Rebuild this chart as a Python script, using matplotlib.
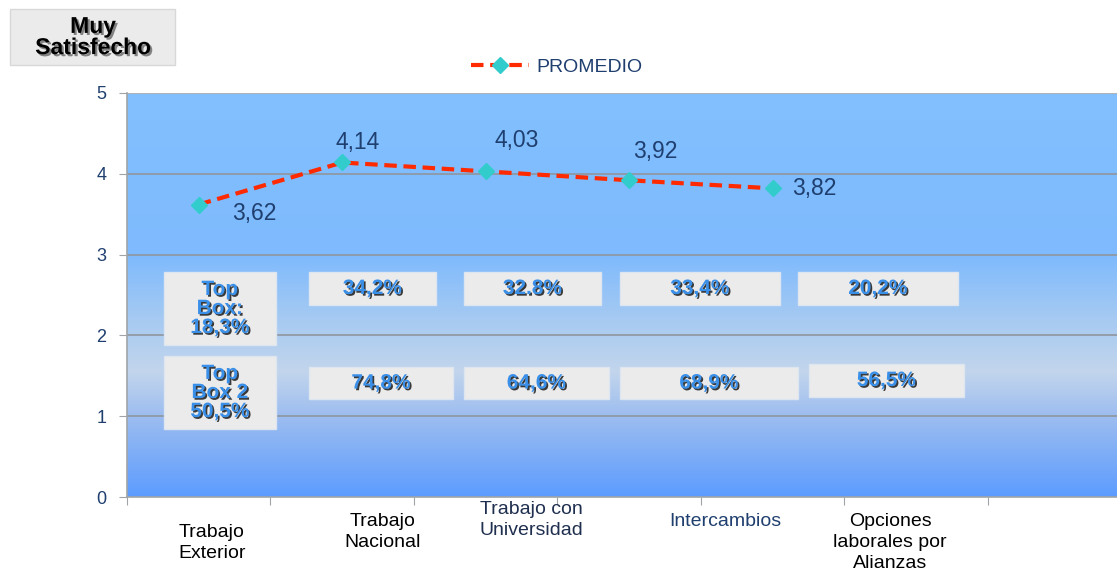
import numpy as np
import matplotlib
matplotlib.use("Agg")
import matplotlib.pyplot as plt
import matplotlib.patheffects as pe
from matplotlib.colors import LinearSegmentedColormap
from matplotlib.patches import Rectangle

plt.rcParams['font.family'] = ['Liberation Sans', 'DejaVu Sans']

# datos
categorias = ["Trabajo\nExterior", "Trabajo\nNacional", "Trabajo con\nUniversidad",
              "Intercambios", "Opciones\nlaborales por\nAlianzas"]
promedio = [3.62, 4.14, 4.03, 3.92, 3.82]
etiquetas_prom = ["3,62", "4,14", "4,03", "3,92", "3,82"]
top_box = ["Top\nBox:\n18,3%", "34,2%", "32.8%", "33,4%", "20,2%"]
top_box2 = ["Top\nBox 2\n50,5%", "74,8%", "64,6%", "68,9%", "56,5%"]

fig = plt.figure(figsize=(11.17, 5.71), dpi=100)
ax = fig.add_axes([127 / 1117, 1 - 497 / 571, 1 - 127 / 1117, (497 - 93) / 571])
ax.set_xlim(0, 6.9)
ax.set_ylim(0, 5)

# fondo degradado
stops = [(0.0, "#5c9cff"), (0.2, "#9dbdf0"), (0.31, "#c2d5ec"), (0.44, "#a6caf2"),
         (0.6, "#7ebafd"), (1.0, "#82c0ff")]
cmap = LinearSegmentedColormap.from_list("fondo", stops)
grad = np.linspace(0, 1, 256).reshape(-1, 1)
ax.imshow(grad, cmap=cmap, origin="lower", aspect="auto", extent=[0, 6.9, 0, 5], zorder=0)

for yv in [1, 2, 3, 4]:
    ax.axhline(yv, color="#8f969e", lw=1.2, zorder=1)
ax.axhline(5, color="#b0b4b8", lw=1.5, zorder=1)

x = np.arange(len(promedio)) + 0.5
ax.plot(x, promedio, color="#ff2a00", lw=3, ls=(0, (3, 1.6)), marker="D",
        markersize=8, markerfacecolor="#33cccc", markeredgecolor="#33cccc",
        label="PROMEDIO", zorder=4)

offs = [(56, -9, "center"), (15, 20, "center"), (31, 31, "center"),
        (26, 29, "center"), (19, 0, "left")]
for xi, yi, t, (dx, dy, ha) in zip(x, promedio, etiquetas_prom, offs):
    ax.annotate(t, (xi, yi), xytext=(dx, dy), textcoords="offset pixels",
                ha=ha, va="center", fontsize=16.5, color="#1f3f6f", zorder=5)

# cajas Top Box
sombra = [pe.withSimplePatchShadow(offset=(1.2, -1.2), shadow_rgbFace="#1a1a1a", alpha=0.85)]

def caja(x0, x1, y0, y1, texto, fs=15):
    ax.add_patch(Rectangle((x0, y0), x1 - x0, y1 - y0, facecolor="#ebebeb",
                           edgecolor="#dde6f0", lw=1, zorder=3))
    ax.text((x0 + x1) / 2, (y0 + y1) / 2, texto, ha="center", va="center",
            fontsize=fs, fontweight="bold", color="#3a8fe8", linespacing=1.0,
            path_effects=sombra, zorder=4)

fila1_x = [(0.258, 1.038), (1.268, 2.153), (2.348, 3.303), (3.436, 4.55), (4.676, 5.791)]
fila2_x = [(0.258, 1.038), (1.268, 2.272), (2.348, 3.359), (3.436, 4.676), (4.753, 5.833)]
for i, (xx, t) in enumerate(zip(fila1_x, top_box)):
    if i == 0:
        caja(xx[0], xx[1], 1.88, 2.785, t)
    else:
        caja(xx[0], xx[1], 2.376, 2.785, t)
for i, (xx, t) in enumerate(zip(fila2_x, top_box2)):
    if i == 0:
        caja(xx[0], xx[1], 0.84, 1.745, t)
    elif i == 4:
        caja(xx[0], xx[1], 1.238, 1.646, t)
    else:
        caja(xx[0], xx[1], 1.21, 1.61, t)

# ejes
for s in ["top", "right"]:
    ax.spines[s].set_visible(False)
ax.spines["left"].set_color("#a0a4a8")
ax.spines["bottom"].set_color("#a0a4a8")
ax.spines["left"].set_linewidth(1.2)
ax.spines["bottom"].set_linewidth(1.2)
ax.set_yticks([0, 1, 2, 3, 4, 5])
ax.tick_params(axis="y", length=6, color="#a0a4a8", labelsize=13, labelcolor="#1f3f6f", pad=9)
ax.set_xticks(np.arange(0, 7))
ax.set_xticklabels([])
ax.tick_params(axis="x", length=6, color="#a0a4a8")

# etiquetas de categoria
cat_pos = [(212, 524), (383, 513), (531, 501), (725, 513), (890, 513)]
cat_col = ["black", "black", "#1f2f4f", "#1f3f6f", "black"]
for t, (px, py), c in zip(categorias, cat_pos, cat_col):
    ax.text(px / 1117, 1 - py / 571, t, transform=fig.transFigure, ha="center", va="top",
            fontsize=14, color=c, linespacing=1.3)

# leyenda
leg = ax.legend(loc="upper center", bbox_to_anchor=(0.434, 1.13), frameon=False,
                fontsize=14, handlelength=3.0, handletextpad=0.4)
for txt in leg.get_texts():
    txt.set_color("#1f3f6f")

# recuadro "Muy Satisfecho"
fig.patches.append(Rectangle((10 / 1117, 1 - 65 / 571), 165 / 1117, 56 / 571,
                             transform=fig.transFigure, facecolor="#ebebeb",
                             edgecolor="#d8d8d8", lw=1))
fig.text(93 / 1117, 1 - 37 / 571, "Muy\nSatisfecho", ha="center", va="center",
         fontsize=16.5, fontweight="bold", color="black", linespacing=0.9,
         path_effects=[pe.withSimplePatchShadow(offset=(1.5, -1.5), shadow_rgbFace="#555555", alpha=0.7)])

fig.savefig("out.png", dpi=100)
